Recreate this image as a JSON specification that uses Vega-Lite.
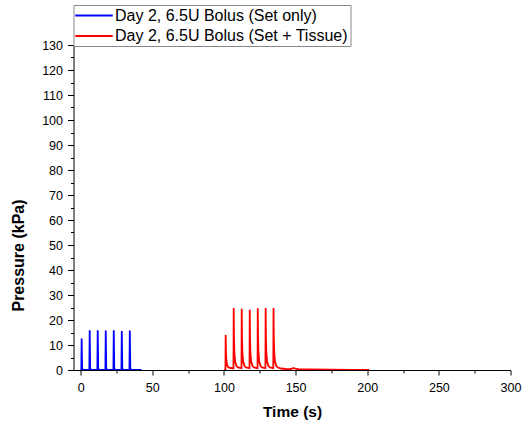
{
  "$schema": "https://vega.github.io/schema/vega-lite/v6.json",
  "autosize": "none",
  "width": 437,
  "height": 325,
  "padding": {"left": 73.5, "top": 45, "right": 11.5, "bottom": 55},
  "background": "white",
  "config": {
    "view": {"stroke": null},
    "font": "Liberation Sans",
    "axis": {
      "domainColor": "#000",
      "tickColor": "#000",
      "labelColor": "#000",
      "titleColor": "#000",
      "labelFont": "Liberation Sans",
      "titleFont": "Liberation Sans",
      "labelFontSize": 12.5,
      "titleFontSize": 15.5,
      "titleFontWeight": "bold",
      "grid": false,
      "labelOverlap": false,
      "labelFlush": false
    }
  },
  "data": {
    "values": [
      {"t": 0, "p": 0.02, "s": "Day 2, 6.5U Bolus (Set only)"},
      {"t": 0.45, "p": 0.02, "s": "Day 2, 6.5U Bolus (Set only)"},
      {"t": 0.7, "p": 12.6, "s": "Day 2, 6.5U Bolus (Set only)"},
      {"t": 1.0, "p": 0.6, "s": "Day 2, 6.5U Bolus (Set only)"},
      {"t": 1.5, "p": 0.1, "s": "Day 2, 6.5U Bolus (Set only)"},
      {"t": 6.05, "p": 0.05, "s": "Day 2, 6.5U Bolus (Set only)"},
      {"t": 6.3, "p": 15.9, "s": "Day 2, 6.5U Bolus (Set only)"},
      {"t": 6.65, "p": 0.6, "s": "Day 2, 6.5U Bolus (Set only)"},
      {"t": 7.1, "p": 0.1, "s": "Day 2, 6.5U Bolus (Set only)"},
      {"t": 11.65, "p": 0.05, "s": "Day 2, 6.5U Bolus (Set only)"},
      {"t": 11.9, "p": 15.9, "s": "Day 2, 6.5U Bolus (Set only)"},
      {"t": 12.25, "p": 0.6, "s": "Day 2, 6.5U Bolus (Set only)"},
      {"t": 12.7, "p": 0.1, "s": "Day 2, 6.5U Bolus (Set only)"},
      {"t": 17.25, "p": 0.05, "s": "Day 2, 6.5U Bolus (Set only)"},
      {"t": 17.5, "p": 15.8, "s": "Day 2, 6.5U Bolus (Set only)"},
      {"t": 17.85, "p": 0.6, "s": "Day 2, 6.5U Bolus (Set only)"},
      {"t": 18.3, "p": 0.1, "s": "Day 2, 6.5U Bolus (Set only)"},
      {"t": 22.85, "p": 0.05, "s": "Day 2, 6.5U Bolus (Set only)"},
      {"t": 23.1, "p": 15.9, "s": "Day 2, 6.5U Bolus (Set only)"},
      {"t": 23.45, "p": 0.6, "s": "Day 2, 6.5U Bolus (Set only)"},
      {"t": 23.9, "p": 0.1, "s": "Day 2, 6.5U Bolus (Set only)"},
      {"t": 28.45, "p": 0.05, "s": "Day 2, 6.5U Bolus (Set only)"},
      {"t": 28.7, "p": 15.6, "s": "Day 2, 6.5U Bolus (Set only)"},
      {"t": 29.05, "p": 0.6, "s": "Day 2, 6.5U Bolus (Set only)"},
      {"t": 29.5, "p": 0.1, "s": "Day 2, 6.5U Bolus (Set only)"},
      {"t": 34.05, "p": 0.05, "s": "Day 2, 6.5U Bolus (Set only)"},
      {"t": 34.3, "p": 15.8, "s": "Day 2, 6.5U Bolus (Set only)"},
      {"t": 34.65, "p": 0.6, "s": "Day 2, 6.5U Bolus (Set only)"},
      {"t": 35.1, "p": 0.1, "s": "Day 2, 6.5U Bolus (Set only)"},
      {"t": 42.5, "p": 0.02, "s": "Day 2, 6.5U Bolus (Set only)"},

      {"t": 100.2, "p": 0.05, "s": "Day 2, 6.5U Bolus (Set + Tissue)"},
      {"t": 101.05, "p": 0.1, "s": "Day 2, 6.5U Bolus (Set + Tissue)"},
      {"t": 101.2, "p": 14, "s": "Day 2, 6.5U Bolus (Set + Tissue)"},
      {"t": 101.4, "p": 7.6, "s": "Day 2, 6.5U Bolus (Set + Tissue)"},
      {"t": 101.7, "p": 3.9, "s": "Day 2, 6.5U Bolus (Set + Tissue)"},
      {"t": 102.2, "p": 2.0, "s": "Day 2, 6.5U Bolus (Set + Tissue)"},
      {"t": 103.0, "p": 1.1, "s": "Day 2, 6.5U Bolus (Set + Tissue)"},
      {"t": 104.5, "p": 0.8, "s": "Day 2, 6.5U Bolus (Set + Tissue)"},
      {"t": 106.65, "p": 0.7, "s": "Day 2, 6.5U Bolus (Set + Tissue)"},
      {"t": 106.8, "p": 24.8, "s": "Day 2, 6.5U Bolus (Set + Tissue)"},
      {"t": 107.0, "p": 13.5, "s": "Day 2, 6.5U Bolus (Set + Tissue)"},
      {"t": 107.3, "p": 7, "s": "Day 2, 6.5U Bolus (Set + Tissue)"},
      {"t": 107.8, "p": 3.5, "s": "Day 2, 6.5U Bolus (Set + Tissue)"},
      {"t": 108.6, "p": 1.8, "s": "Day 2, 6.5U Bolus (Set + Tissue)"},
      {"t": 109.8, "p": 1.0, "s": "Day 2, 6.5U Bolus (Set + Tissue)"},
      {"t": 112.25, "p": 0.7, "s": "Day 2, 6.5U Bolus (Set + Tissue)"},
      {"t": 112.4, "p": 24.5, "s": "Day 2, 6.5U Bolus (Set + Tissue)"},
      {"t": 112.6, "p": 13.3, "s": "Day 2, 6.5U Bolus (Set + Tissue)"},
      {"t": 112.9, "p": 6.9, "s": "Day 2, 6.5U Bolus (Set + Tissue)"},
      {"t": 113.4, "p": 3.5, "s": "Day 2, 6.5U Bolus (Set + Tissue)"},
      {"t": 114.2, "p": 1.8, "s": "Day 2, 6.5U Bolus (Set + Tissue)"},
      {"t": 115.4, "p": 1.0, "s": "Day 2, 6.5U Bolus (Set + Tissue)"},
      {"t": 117.85, "p": 0.7, "s": "Day 2, 6.5U Bolus (Set + Tissue)"},
      {"t": 118.0, "p": 24.1, "s": "Day 2, 6.5U Bolus (Set + Tissue)"},
      {"t": 118.2, "p": 13.1, "s": "Day 2, 6.5U Bolus (Set + Tissue)"},
      {"t": 118.5, "p": 6.8, "s": "Day 2, 6.5U Bolus (Set + Tissue)"},
      {"t": 119.0, "p": 3.4, "s": "Day 2, 6.5U Bolus (Set + Tissue)"},
      {"t": 119.8, "p": 1.8, "s": "Day 2, 6.5U Bolus (Set + Tissue)"},
      {"t": 121.0, "p": 1.0, "s": "Day 2, 6.5U Bolus (Set + Tissue)"},
      {"t": 123.45, "p": 0.7, "s": "Day 2, 6.5U Bolus (Set + Tissue)"},
      {"t": 123.6, "p": 24.7, "s": "Day 2, 6.5U Bolus (Set + Tissue)"},
      {"t": 123.8, "p": 13.4, "s": "Day 2, 6.5U Bolus (Set + Tissue)"},
      {"t": 124.1, "p": 7, "s": "Day 2, 6.5U Bolus (Set + Tissue)"},
      {"t": 124.6, "p": 3.5, "s": "Day 2, 6.5U Bolus (Set + Tissue)"},
      {"t": 125.4, "p": 1.8, "s": "Day 2, 6.5U Bolus (Set + Tissue)"},
      {"t": 126.6, "p": 1.0, "s": "Day 2, 6.5U Bolus (Set + Tissue)"},
      {"t": 128.95, "p": 0.7, "s": "Day 2, 6.5U Bolus (Set + Tissue)"},
      {"t": 129.1, "p": 24.8, "s": "Day 2, 6.5U Bolus (Set + Tissue)"},
      {"t": 129.3, "p": 13.5, "s": "Day 2, 6.5U Bolus (Set + Tissue)"},
      {"t": 129.6, "p": 7, "s": "Day 2, 6.5U Bolus (Set + Tissue)"},
      {"t": 130.1, "p": 3.5, "s": "Day 2, 6.5U Bolus (Set + Tissue)"},
      {"t": 130.9, "p": 1.8, "s": "Day 2, 6.5U Bolus (Set + Tissue)"},
      {"t": 132.1, "p": 1.0, "s": "Day 2, 6.5U Bolus (Set + Tissue)"},
      {"t": 134.45, "p": 0.7, "s": "Day 2, 6.5U Bolus (Set + Tissue)"},
      {"t": 134.6, "p": 24.8, "s": "Day 2, 6.5U Bolus (Set + Tissue)"},
      {"t": 134.8, "p": 13.5, "s": "Day 2, 6.5U Bolus (Set + Tissue)"},
      {"t": 135.1, "p": 7, "s": "Day 2, 6.5U Bolus (Set + Tissue)"},
      {"t": 135.6, "p": 3.5, "s": "Day 2, 6.5U Bolus (Set + Tissue)"},
      {"t": 136.4, "p": 1.8, "s": "Day 2, 6.5U Bolus (Set + Tissue)"},
      {"t": 137.6, "p": 1.0, "s": "Day 2, 6.5U Bolus (Set + Tissue)"},
      {"t": 140, "p": 0.6, "s": "Day 2, 6.5U Bolus (Set + Tissue)"},
      {"t": 143, "p": 0.4, "s": "Day 2, 6.5U Bolus (Set + Tissue)"},
      {"t": 146, "p": 0.3, "s": "Day 2, 6.5U Bolus (Set + Tissue)"},
      {"t": 147.5, "p": 0.5, "s": "Day 2, 6.5U Bolus (Set + Tissue)"},
      {"t": 148.5, "p": 0.8, "s": "Day 2, 6.5U Bolus (Set + Tissue)"},
      {"t": 149.8, "p": 0.5, "s": "Day 2, 6.5U Bolus (Set + Tissue)"},
      {"t": 152, "p": 0.3, "s": "Day 2, 6.5U Bolus (Set + Tissue)"},
      {"t": 160, "p": 0.2, "s": "Day 2, 6.5U Bolus (Set + Tissue)"},
      {"t": 175, "p": 0.1, "s": "Day 2, 6.5U Bolus (Set + Tissue)"},
      {"t": 190, "p": 0.05, "s": "Day 2, 6.5U Bolus (Set + Tissue)"},
      {"t": 201.5, "p": 0.02, "s": "Day 2, 6.5U Bolus (Set + Tissue)"}
    ]
  },
  "mark": {"type": "line", "strokeWidth": 1.8, "clip": true},
  "encoding": {
    "x": {
      "field": "t",
      "type": "quantitative",
      "scale": {"domain": [-5, 300], "nice": false, "zero": false},
      "axis": {
        "title": "Time (s)",
        "values": [0, 25, 50, 75, 100, 125, 150, 175, 200, 225, 250, 275, 300],
        "labelExpr": "datum.value % 50 === 0 ? datum.label : ''",
        "tickSize": {"condition": {"test": "datum.value % 50 === 0", "value": 5}, "value": 3},
        "labelPadding": 6,
        "titlePadding": 11
      }
    },
    "y": {
      "field": "p",
      "type": "quantitative",
      "scale": {"domain": [0, 130], "nice": false},
      "axis": {
        "title": "Pressure (kPa)",
        "titleFontSize": 16,
        "values": [0, 5, 10, 15, 20, 25, 30, 35, 40, 45, 50, 55, 60, 65, 70, 75, 80, 85, 90, 95, 100, 105, 110, 115, 120, 125, 130],
        "labelExpr": "datum.value % 10 === 0 ? datum.label : ''",
        "tickSize": {"condition": {"test": "datum.value % 10 === 0", "value": 6}, "value": 3},
        "labelPadding": 5,
        "titleAngle": -90,
        "titleAlign": "center",
        "titleBaseline": "middle",
        "titleX": -55.5,
        "titleY": 210
      }
    },
    "color": {
      "field": "s",
      "type": "nominal",
      "scale": {
        "domain": ["Day 2, 6.5U Bolus (Set only)", "Day 2, 6.5U Bolus (Set + Tissue)"],
        "range": ["#0000ff", "#ff0000"]
      },
      "legend": {
        "title": null,
        "orient": "none",
        "legendX": 0,
        "legendY": -40,
        "padding": 2,
        "strokeColor": "#888888",
        "fillColor": "white",
        "symbolType": "M-2.5,0H2.5",
        "symbolSize": 225,
        "symbolStrokeWidth": 2,
        "symbolOffset": 10,
        "labelOffset": 12.5,
        "labelFontSize": 16,
        "labelFont": "Liberation Sans",
        "labelColor": "#000",
        "labelLimit": 400,
        "rowPadding": 3.5
      }
    }
  }
}
